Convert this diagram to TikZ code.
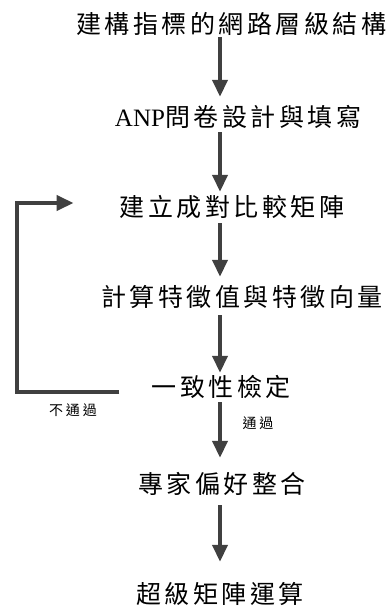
\documentclass[tikz,border=0pt]{standalone}
\usepackage{fontspec}
\setmainfont{Liberation Serif}
\newfontfamily\cjk[LetterSpace=14]{Noto Sans CJK TC}
\newfontfamily\cjksmall[LetterSpace=20]{Noto Sans CJK TC}
\newfontfamily\latinserif{Liberation Serif}
\usetikzlibrary{arrows.meta}
\definecolor{arrowgray}{HTML}{404040}
\begin{document}
\begin{tikzpicture}[x=1pt,y=-1pt,
  lbl/.style={inner sep=0pt, font=\cjk\fontsize{25}{25}\selectfont, text height=21pt, text depth=3pt},
  small/.style={inner sep=0pt, font=\cjksmall\fontsize{14}{14}\selectfont},
  arr/.style={draw=arrowgray, line width=4pt, -{Triangle[length=17pt,width=15pt]}}
]
\useasboundingbox (0,0) rectangle (387,610);
\coordinate (spine) at (220,0);
\node[lbl] (t1) at (231,25) {建構指標的網路層級結構};
\node[lbl] (t2) at (238,117) {{\latinserif\addfontfeature{LetterSpace=0}\fontsize{25}{25}\selectfont ANP}問卷設計與填寫};
\node[lbl] (t3) at (232,207) {建立成對比較矩陣};
\node[lbl] (t4) at (242,297) {計算特徵值與特徵向量};
\node[lbl] (t5) at (221,387) {一致性檢定};
\node[lbl] (t6) at (222,484) {專家偏好整合};
\node[lbl] (t7) at (220,594) {超級矩陣運算};
\node[small] (fail) at (73,410) {不通過};
\node[small] (pass) at (258,423) {通過};
\coordinate (loop) at (17,392);
\draw[arr, shorten <=0pt, shorten >=8pt] (t1.south -| spine) -- (t2.north -| spine);
\draw[arr, shorten <=3pt, shorten >=3pt] (t2.south -| spine) -- (t3.north -| spine);
\draw[arr, shorten <=4pt, shorten >=8pt] (t3.south -| spine) -- (t4.north -| spine);
\draw[arr, shorten <=6pt, shorten >=2pt] (t4.south -| spine) -- (t5.north -| spine);
\draw[arr, shorten <=3pt, shorten >=14pt] (t5.south -| spine) -- (t6.north -| spine);
\draw[arr, shorten <=9pt, shorten >=20pt] (t6.south -| spine) -- (t7.north -| spine);
\draw[arr, line join=miter, shorten <=32pt, shorten >=46pt] ([yshift=-5pt]t5.west) -- (loop) |- ([yshift=4pt]t3.west);
\end{tikzpicture}
\end{document}
